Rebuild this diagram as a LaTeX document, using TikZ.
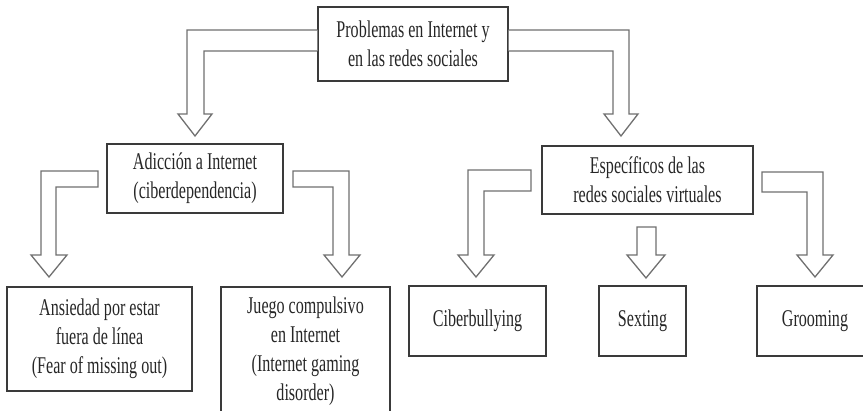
\documentclass[tikz,border=0pt]{standalone}
\usepackage{fontspec}
\setmainfont{Liberation Serif}[FakeStretch=0.67]
\usetikzlibrary{positioning}

\definecolor{boxgray}{HTML}{3A3A3A}
\definecolor{arrowgray}{HTML}{707070}
\definecolor{textgray}{HTML}{262626}

\tikzset{
  box/.style={draw=boxgray, line width=1.2pt, align=center, inner sep=0pt,
    text=textgray, font=\fontsize{24}{29}\selectfont},
  blockarrow/.style={draw=arrowgray, line width=1.3pt, fill=white, line join=miter},
}

\begin{document}
\begin{tikzpicture}[x=1pt,y=-1pt]
		\useasboundingbox (0,0) rectangle (863,411);
		% upper level
		\node[box, minimum width=190, minimum height=74] (prob) at (413,44)
		{Problemas en Internet y\\en las redes sociales};
		\node[box, minimum width=176, minimum height=69] (adic) at (195,178.5)
		{Adicción a Internet\\(ciberdependencia)};
		\node[box, minimum width=211, minimum height=68] (espec) at (647.5,180)
		{Específicos de las\\redes sociales virtuales};
		
		% lower level
		\node[box, minimum width=185, minimum height=104] (ansi) at (99.5,339)
		{Ansiedad por estar\\fuera de línea\\(Fear of missing out)};
		\node[box, minimum width=169, minimum height=128] (juego) at (305.5,351)
		{Juego compulsivo\\en Internet\\(Internet gaming\\disorder)};
		\node[box, minimum width=137, minimum height=70] (ciber) at (477.5,321) {Ciberbullying};
		\node[box, minimum width=87, minimum height=70] (sext) at (642.5,321) {Sexting};
		\node[box, minimum width=116, minimum height=70] (groom) at (815,321) {Grooming};
		
		% arrows from the top box
		\draw[blockarrow] (prob.west |- 0,30) -- (187,30) -- (187,114) -- (178,114)
		-- (195,136) -- (212,114) -- (204,114) -- (204,51) -- (prob.west |- 0,51);
		\draw[blockarrow] (prob.east |- 0,30) -- (629,30) -- (629,114) -- (638,114)
		-- (621,136) -- (604,114) -- (613,114) -- (613,51) -- (prob.east |- 0,51);
		
		% arrows from adiccion
		\draw[blockarrow] (98,171) -- (41,171) -- (41,255) -- (31,255) -- (49,277)
		-- (67,255) -- (56,255) -- (56,187) -- (98,187) -- cycle;
		\draw[blockarrow] (293,171) -- (349,171) -- (349,255) -- (360,255) -- (342,277)
		-- (324,255) -- (333,255) -- (333,187) -- (293,187) -- cycle;
		
		% arrows from especificos
		\draw[blockarrow] (531,170) -- (468,170) -- (468,255) -- (458,255) -- (476,277)
		-- (494,255) -- (484,255) -- (484,191) -- (531,191) -- cycle;
		\draw[blockarrow] (637,227) -- (637,255) -- (627,255) -- (646,278)
		-- (665,255) -- (656,255) -- (656,227) -- cycle;
		\draw[blockarrow] (762,172) -- (823,172) -- (823,255) -- (833,255) -- (815,277)
		-- (797,255) -- (807,255) -- (807,192) -- (762,192) -- cycle;
\end{tikzpicture}
\end{document}
